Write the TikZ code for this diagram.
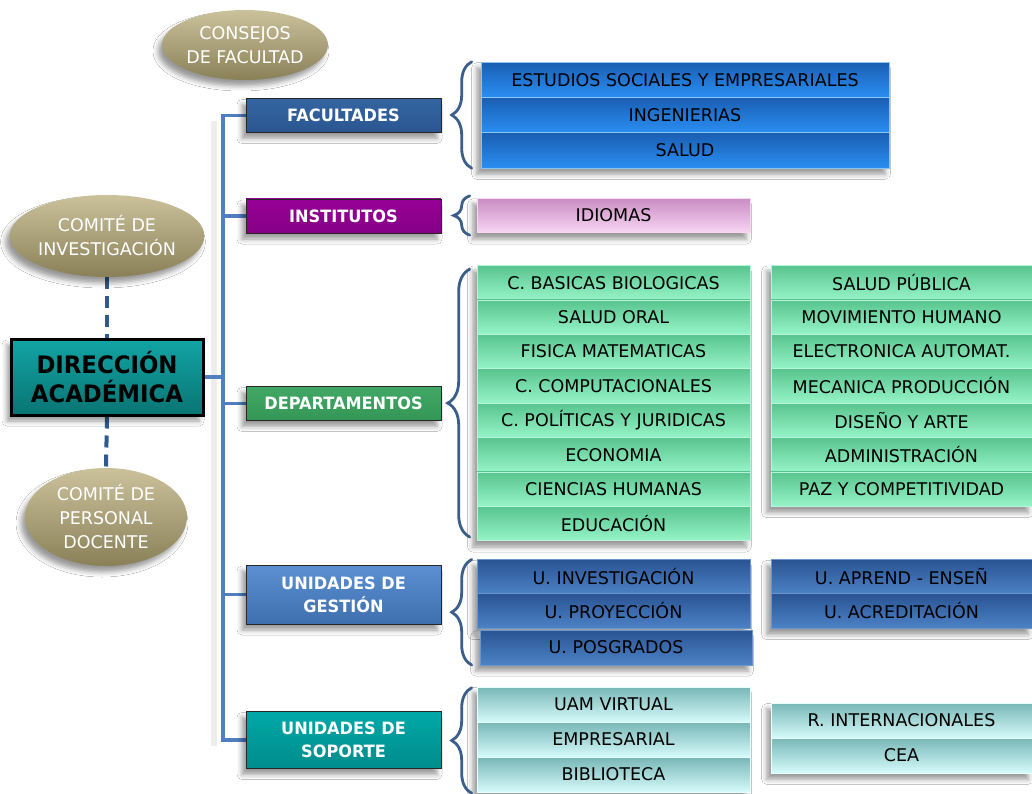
\documentclass[tikz,border=0pt]{standalone}
\usepackage{fontspec}
\setmainfont{DejaVu Sans}[BoldFeatures={FakeStretch=0.95}]
\usetikzlibrary{shapes.geometric,shadows.blur,decorations.pathreplacing,backgrounds}

\definecolor{trunkblue}{HTML}{4F7FBF}
\definecolor{dashblue}{HTML}{2E5A8F}
\definecolor{braceblue}{HTML}{3B5F8A}
\definecolor{khakitop}{HTML}{CBC29C}
\definecolor{khakibot}{HTML}{8A8058}
\definecolor{headtop}{HTML}{12A4A4}
\definecolor{headbot}{HTML}{0A7474}
\definecolor{factop}{HTML}{3465A0}
\definecolor{facbot}{HTML}{2A5690}
\definecolor{insttop}{HTML}{960096}
\definecolor{instbot}{HTML}{860086}
\definecolor{deptop}{HTML}{42A866}
\definecolor{depbot}{HTML}{349656}
\definecolor{gesttop}{HTML}{5C90D2}
\definecolor{gestbot}{HTML}{3E6FAE}
\definecolor{soptop}{HTML}{00A8A8}
\definecolor{sopbot}{HTML}{008C8C}
\definecolor{fitop}{HTML}{1A5EB2}
\definecolor{fibot}{HTML}{2A8EF2}
\definecolor{fiedge}{HTML}{8CC4F0}
\definecolor{pktop}{HTML}{C98CC2}
\definecolor{pkbot}{HTML}{F8D6F4}
\definecolor{grtop}{HTML}{58C48E}
\definecolor{grbot}{HTML}{96F4C8}
\definecolor{grtedge}{HTML}{B8F5D8}
\definecolor{bltop}{HTML}{2A5494}
\definecolor{blbot}{HTML}{4C82C6}
\definecolor{bledge}{HTML}{6A96CC}
\definecolor{cytop}{HTML}{78B6B6}
\definecolor{cybot}{HTML}{D6FBFB}
\definecolor{cyedge}{HTML}{E6FFFF}

\tikzset{
  x=1pt, y=-1pt,
  softshadow/.style={blur shadow={shadow xshift=-4pt, shadow yshift=-6pt,
      shadow blur radius=5pt, shadow opacity=40}},
  groupshadow/.style={fill=white, softshadow},
  council/.style={ellipse, inner sep=0pt, top color=khakitop, bottom color=khakibot,
      text=white, align=center, font=\fontsize{17.5}{24}\selectfont, softshadow},
  headbox/.style={rectangle, draw=black, line width=3pt, inner sep=0pt,
      top color=headtop, bottom color=headbot, align=center,
      font=\bfseries\fontsize{24}{29}\selectfont, text=black,
      minimum width=192pt, minimum height=76pt, softshadow},
  catbox/.style={rectangle, draw=black!85, line width=0.8pt, inner sep=0pt,
      minimum width=195pt, minimum height=34pt, text=white, align=center,
      font=\bfseries\fontsize{17}{23}\selectfont, softshadow},
  itembox/.style={rectangle, inner sep=0pt, minimum height=34.6pt, line width=0.6pt,
      text=black, font=\fontsize{17.5}{20}\selectfont},
  facitem/.style={itembox, top color=fitop, bottom color=fibot, draw=fiedge,
      minimum width=408pt, minimum height=35.3pt},
  instsitem/.style={itembox, top color=pktop, bottom color=pkbot, draw=pkbot,
      minimum width=273pt},
  depitem/.style={itembox, top color=grtop, bottom color=grbot, draw=grtedge,
      minimum height=34.4pt},
  gestitem/.style={itembox, top color=bltop, bottom color=blbot, draw=bledge},
  sopitem/.style={itembox, top color=cytop, bottom color=cybot, draw=cyedge,
      minimum height=35pt},
  leftcol/.style={minimum width=273pt},
  rightcol/.style={minimum width=261pt},
  trunk/.style={trunkblue, line width=3.2pt},
  trunkshade/.style={black!7, line width=6pt},
  dashlink/.style={dashblue, line width=4pt, dash pattern=on 12pt off 7pt},
  bracket/.style={braceblue, line width=2.8pt, line cap=round,
      decorate, decoration={brace, amplitude=#1}},
  bracket/.default=20pt,
}

\begin{document}
\begin{tikzpicture}
\useasboundingbox (0,0) rectangle (1032,794);

% councils and the head office
\node[council, minimum width=146pt, minimum height=70pt] (consejo) at (245,45) {CONSEJOS\\DE FACULTAD};
\node[council, minimum width=182pt, minimum height=82pt] (cinv) at (107,236) {COMITÉ DE\\INVESTIGACIÓN};
\node[council, minimum width=162pt, minimum height=98pt] (cdoc) at (106,517) {COMITÉ DE\\PERSONAL\\DOCENTE};
\node[headbox] (dir) at (107,377) {DIRECCIÓN\\ACADÉMICA};

% categories
\node[catbox, top color=factop, bottom color=facbot] (fac) at (343.5,115.5) {FACULTADES};
\node[catbox, top color=insttop, bottom color=instbot] (inst) at (343.5,216) {INSTITUTOS};
\node[catbox, top color=deptop, bottom color=depbot] (dep) at (343.5,403.5) {DEPARTAMENTOS};
\node[catbox, top color=gesttop, bottom color=gestbot, minimum height=59pt] (gest) at (343.5,594.5) {UNIDADES DE\\GESTIÓN};
\node[catbox, top color=soptop, bottom color=sopbot, minimum height=57pt] (sop) at (343.5,740) {UNIDADES DE\\SOPORTE};

\coordinate (trunk) at (223,0);

% faculties
\node[facitem] (f1) at (685,79.7) {ESTUDIOS SOCIALES Y EMPRESARIALES};
\node[facitem] (f2) at (685,115) {INGENIERIAS};
\node[facitem] (f3) at (685,150.3) {SALUD};

% institutes
\node[instsitem] (i1) at (613.5,215.5) {IDIOMAS};

% departments, left column
\foreach \t [count=\k from 0] in {C. BASICAS BIOLOGICAS, SALUD ORAL, FISICA MATEMATICAS,
    C. COMPUTACIONALES, C. POLÍTICAS Y JURIDICAS, ECONOMIA, CIENCIAS HUMANAS, EDUCACIÓN}
  \node[depitem, leftcol] (dl\k) at (613.5,{282.7+34.4*\k}) {\t};
% departments, right column
\foreach \t [count=\k from 0] in {SALUD PÚBLICA, MOVIMIENTO HUMANO, ELECTRONICA AUTOMAT.,
    MECANICA PRODUCCIÓN, DISEÑO Y ARTE, ADMINISTRACIÓN, PAZ Y COMPETITIVIDAD}
  \node[depitem, rightcol] (dr\k) at (901.5,{282.7+34.4*\k}) {\t};

% management units
\node[gestitem, leftcol] (g1) at (613.5,577) {U. INVESTIGACIÓN};
\node[gestitem, leftcol] (g2) at (613.5,611) {U. PROYECCIÓN};
\node[gestitem, minimum width=272pt] (g3) at (616,647.5) {U. POSGRADOS};
\node[gestitem, rightcol] (g4) at (901.5,577) {U. APREND - ENSEÑ};
\node[gestitem, rightcol] (g5) at (901.5,611) {U. ACREDITACIÓN};

% support units
\node[sopitem, leftcol] (s1) at (613.5,704.5) {UAM VIRTUAL};
\node[sopitem, leftcol] (s2) at (613.5,739.5) {EMPRESARIAL};
\node[sopitem, leftcol] (s3) at (613.5,774.5) {BIBLIOTECA};
\node[sopitem, rightcol] (s4) at (901.5,720.5) {R. INTERNACIONALES};
\node[sopitem, rightcol] (s5) at (901.5,755.5) {CEA};

% white page, group shadows and connectors behind everything
\begin{scope}[on background layer]
  \fill[white] (0,0) rectangle (1032,794);
  \path[groupshadow] (f1.north west) rectangle (f3.south east);
  \path[groupshadow] (i1.north west) rectangle (i1.south east);
  \path[groupshadow] (dl0.north west) rectangle (dl7.south east);
  \path[groupshadow] (dr0.north west) rectangle (dr6.south east);
  \path[groupshadow] (g1.north west) rectangle (g2.south east);
  \path[groupshadow] (g3.north west) rectangle (g3.south east);
  \path[groupshadow] (g4.north west) rectangle (g5.south east);
  \path[groupshadow] (s1.north west) rectangle (s3.south east);
  \path[groupshadow] (s4.north west) rectangle (s5.south east);
  \draw[trunkshade] ([xshift=-9pt,yshift=-6pt]fac.west -| trunk) -- ([xshift=-9pt,yshift=-6pt]sop.west -| trunk);
  \draw[dashlink] (cinv.south) -- (dir.north);
  \draw[dashlink] (dir.south) -- (cdoc.north);
  \draw[trunk] (fac.west) -- (fac.west -| trunk) -- (sop.west -| trunk) -- (sop.west);
  \draw[trunk] (dir.east) -- (dir.east -| trunk);
  \foreach \n in {inst,dep,gest}
    \draw[trunk] (\n.west -| trunk) -- (\n.west);
\end{scope}

% braces grouping each category's items
\draw[bracket=20pt] ([xshift=-9pt]f3.south west) -- ([xshift=-9pt]f1.north west);
\draw[bracket=16pt] ([xshift=-7pt,yshift=-2pt]i1.south west) -- ([xshift=-7pt,yshift=2pt]i1.north west);
\draw[bracket=22pt] ([xshift=-7pt,yshift=4pt]dl7.south west) -- ([xshift=-7pt,yshift=-4pt]dl0.north west);
\draw[bracket=20pt] ([xshift=-8pt]g3.south west) -- ([xshift=-5pt]g1.north west);
\draw[bracket=20pt] ([xshift=-5pt,yshift=-1pt]s3.south west) -- ([xshift=-5pt,yshift=-1pt]s1.north west);
\end{tikzpicture}
\end{document}
